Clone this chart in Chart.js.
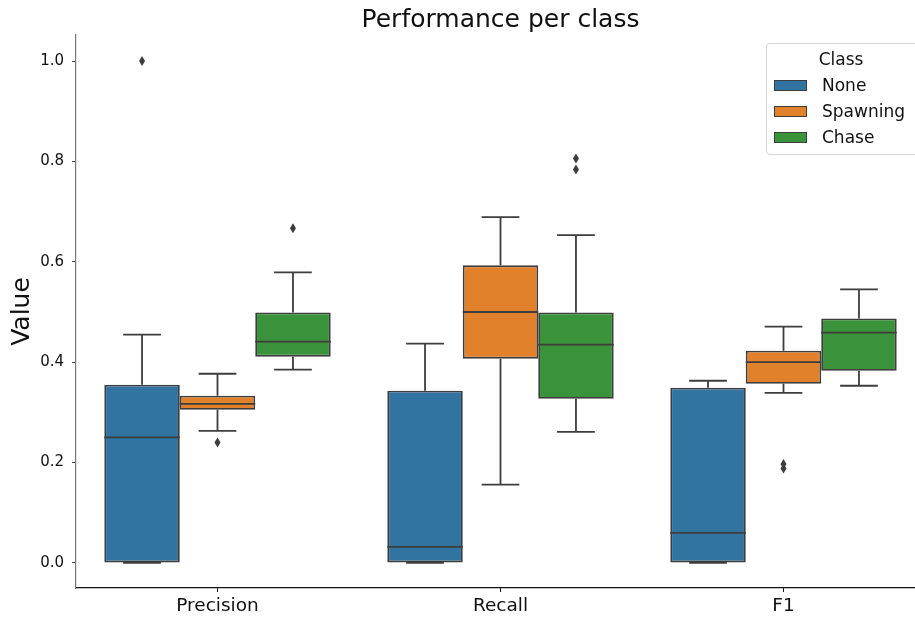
<!DOCTYPE html>
<html lang="en">
<head>
    <meta charset="UTF-8">
    <title>Performance per class</title>
    <script src="https://cdn.jsdelivr.net/npm/chart.js"></script>
    <style>
        html, body { margin: 0; padding: 0; background: #fff; overflow: hidden; }
        .wrap { position: relative; width: 935px; height: 617px; }
        .legend {
            position: absolute; left: 766px; top: 43px; width: 160px; height: 112px;
            border: 1px solid #d6d6d6; border-radius: 4px; background: rgba(255,255,255,0.85);
            font-family: "DejaVu Sans", sans-serif; font-size: 17px; color: #111;
            box-sizing: border-box;
        }
        .legend .title { text-align: center; margin-top: 5px; padding-right: 10px; height: 23px; }
        .legend .row { display: flex; align-items: center; height: 26px; padding-left: 7px; }
        .legend .patch { width: 33px; height: 11px; border: 1px solid #3d3d3d; margin-right: 15px; box-sizing: border-box; }
    </style>
</head>
<body>
    <div class="wrap">
        <canvas id="boxChart" width="935" height="617"></canvas>
        <div class="legend" id="legend"></div>
    </div>
    <script>
        // categories and classes
        const categories = ['Precision', 'Recall', 'F1'];
        const classes = ['None', 'Spawning', 'Chase'];
        const colors = ['#3274a1', '#e1812c', '#3a923a'];
        const yTicks = [0.0, 0.2, 0.4, 0.6, 0.8, 1.0];

        // box stats per category: [whisker low, q1, median, q3, whisker high]
        const noneBoxes = [[0, 0, 0.25, 0.355, 0.455], [0, 0, 0.032, 0.343, 0.437], [0, 0, 0.06, 0.349, 0.363]];
        const spawningBoxes = [[0.263, 0.305, 0.317, 0.333, 0.377], [0.156, 0.407, 0.50, 0.593, 0.689], [0.339, 0.357, 0.40, 0.423, 0.471]];
        const chaseBoxes = [[0.385, 0.411, 0.441, 0.499, 0.579], [0.261, 0.327, 0.435, 0.499, 0.653], [0.353, 0.383, 0.459, 0.487, 0.545]];

        // outliers per category
        const noneOutliers = [[1.0], [], []];
        const spawningOutliers = [[0.24], [], [0.197, 0.188]];
        const chaseOutliers = [[0.667], [0.806, 0.784], []];

        const allBoxes = [noneBoxes, spawningBoxes, chaseBoxes];
        const allOutliers = [noneOutliers, spawningOutliers, chaseOutliers];
        const lineColor = '#3d3d3d';

        // whiskers, medians and outliers drawn on top of the floating bars
        const boxPlugin = {
            id: 'boxExtras',
            afterDatasetsDraw(chart) {
                const ctx = chart.ctx;
                const y = chart.scales.y;
                ctx.save();
                ctx.strokeStyle = lineColor;
                ctx.fillStyle = lineColor;
                ctx.lineWidth = 1.8;
                allBoxes.forEach((boxes, di) => {
                    const meta = chart.getDatasetMeta(di);
                    meta.data.forEach((bar, i) => {
                        const s = boxes[i];
                        const cx = bar.x;
                        const half = bar.width / 2;
                        const yLow = y.getPixelForValue(s[0]);
                        const yQ1 = y.getPixelForValue(s[1]);
                        const yMed = y.getPixelForValue(s[2]);
                        const yQ3 = y.getPixelForValue(s[3]);
                        const yHigh = y.getPixelForValue(s[4]);
                        ctx.beginPath();
                        // whiskers
                        ctx.moveTo(cx, yQ1); ctx.lineTo(cx, yLow);
                        ctx.moveTo(cx, yQ3); ctx.lineTo(cx, yHigh);
                        // caps
                        ctx.moveTo(cx - half / 2, yLow); ctx.lineTo(cx + half / 2, yLow);
                        ctx.moveTo(cx - half / 2, yHigh); ctx.lineTo(cx + half / 2, yHigh);
                        // median
                        ctx.moveTo(cx - half, yMed); ctx.lineTo(cx + half, yMed);
                        ctx.stroke();
                        // outliers as diamonds
                        allOutliers[di][i].forEach(v => {
                            const py = y.getPixelForValue(v);
                            ctx.beginPath();
                            ctx.moveTo(cx, py - 5);
                            ctx.lineTo(cx + 3, py);
                            ctx.lineTo(cx, py + 5);
                            ctx.lineTo(cx - 3, py);
                            ctx.closePath();
                            ctx.fill();
                        });
                    });
                });
                ctx.restore();
            }
        };

        Chart.defaults.font.family = '"DejaVu Sans", sans-serif';
        Chart.defaults.color = '#111';

        new Chart(document.getElementById('boxChart'), {
            type: 'bar',
            data: {
                labels: categories,
                datasets: classes.map((name, di) => ({
                    label: name,
                    data: allBoxes[di].map(s => [s[1], s[3]]),
                    backgroundColor: colors[di],
                    borderColor: lineColor,
                    borderWidth: 1.8,
                    borderSkipped: false,
                    categoryPercentage: 0.8,
                    barPercentage: 1.0
                }))
            },
            options: {
                responsive: false,
                animation: false,
                layout: { padding: { left: 0, right: 10, top: 0, bottom: 0 } },
                scales: {
                    x: {
                        grid: { drawOnChartArea: false, offset: false, tickLength: 4, color: '#111' },
                        border: { color: '#111', width: 1.2 },
                        ticks: { font: { size: 18.5 }, padding: 3 },
                        afterFit(scale) { scale.height = 29; }
                    },
                    y: {
                        min: -0.05,
                        max: 1.052,
                        grid: { drawOnChartArea: false, tickLength: 4, color: '#444' },
                        border: { color: '#777', width: 1.2 },
                        ticks: {
                            font: { size: 15 },
                            padding: 8,
                            callback: v => v.toFixed(1)
                        },
                        afterBuildTicks(scale) { scale.ticks = yTicks.map(v => ({ value: v })); },
                        afterFit(scale) { scale.width = 76; },
                        title: { display: true, text: 'Value', font: { size: 25 }, padding: { top: 7, bottom: 0 } }
                    }
                },
                plugins: {
                    legend: { display: false },
                    tooltip: { enabled: false },
                    title: {
                        display: true,
                        text: 'Performance per class',
                        fullSize: false,
                        font: { size: 25, weight: 'normal' },
                        color: '#111',
                        padding: { top: 5, bottom: 0 }
                    }
                }
            },
            plugins: [boxPlugin]
        });

        // legend
        const legend = document.getElementById('legend');
        legend.innerHTML = '<div class="title">Class</div>' + classes.map((name, i) =>
            `<div class="row"><span class="patch" style="background:${colors[i]}"></span>${name}</div>`
        ).join('');
    </script>
</body>
</html>
